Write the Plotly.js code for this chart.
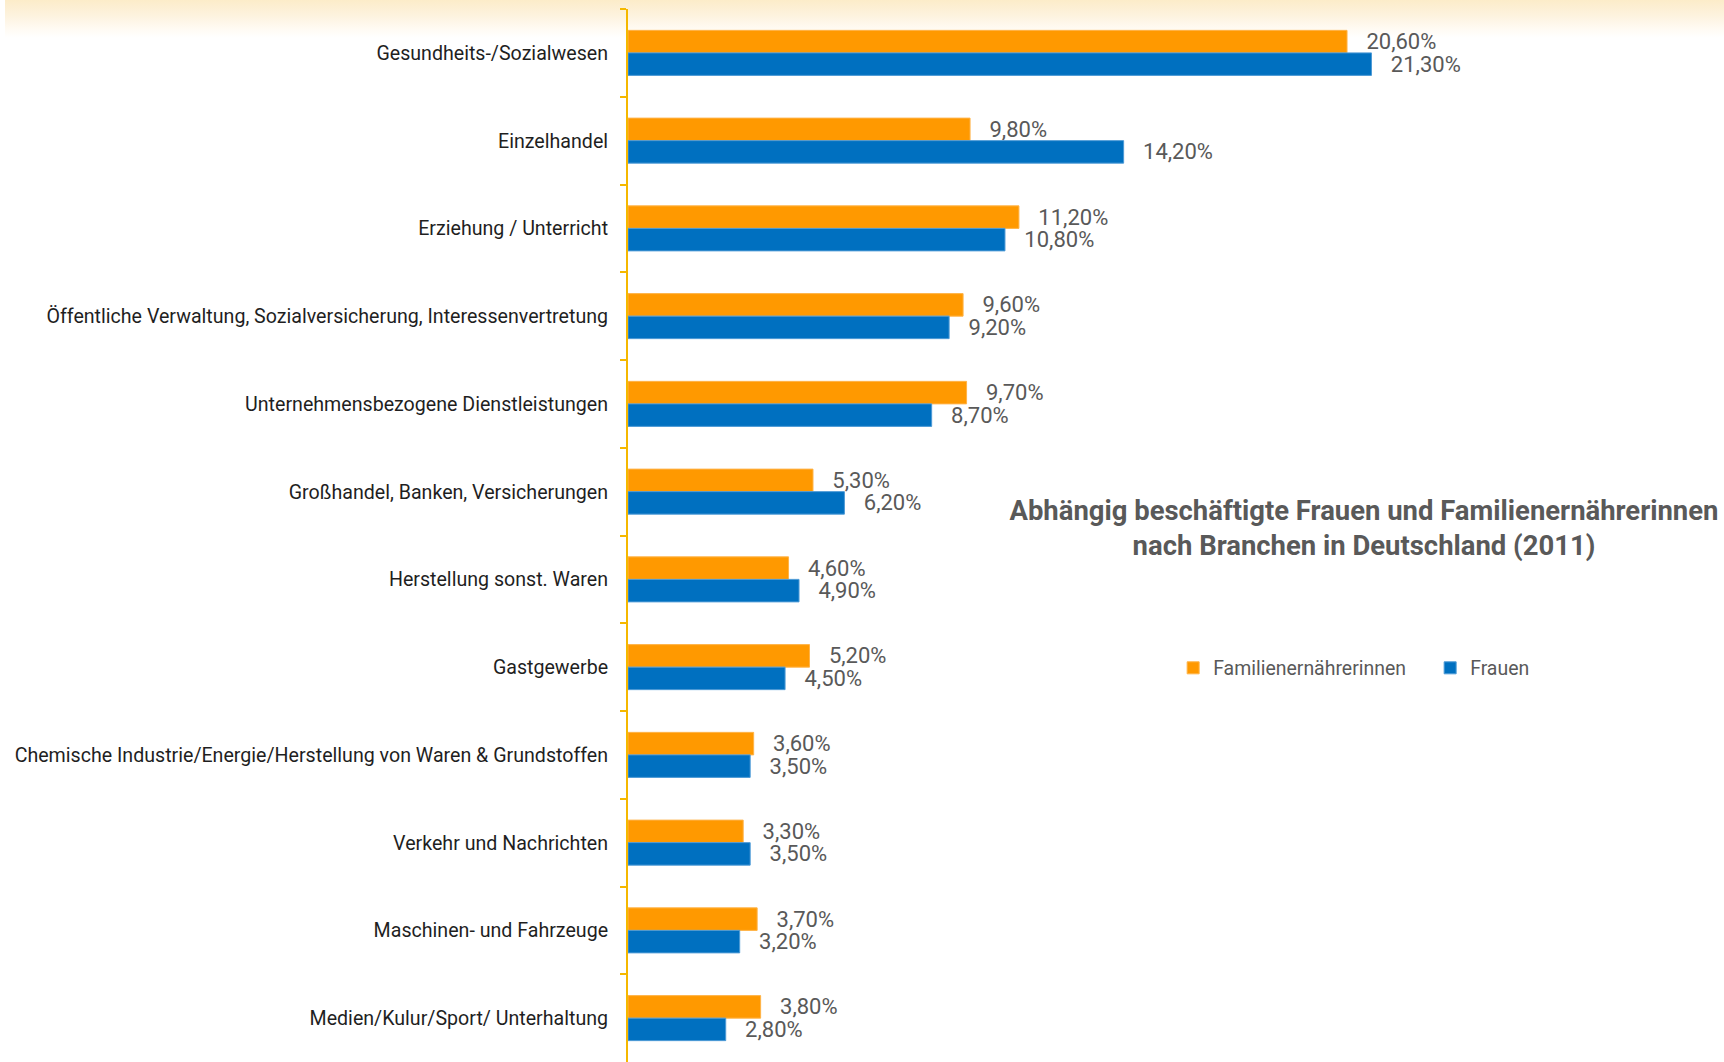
<!DOCTYPE html>
<html>
<head>
<meta charset="utf-8">
<script src="https://cdn.plot.ly/plotly-3.0.1.min.js"></script>
<style>
  html, body { margin: 0; padding: 0; background: #ffffff; }
  #band { position: absolute; left: 5px; top: 0; width: 1719px; height: 40px;
          background: linear-gradient(to bottom, #fcecc9 0px, #fdf3df 16px, #fffaf2 28px, #ffffff 38px); }
  #chart { position: absolute; left: 0; top: 0; width: 1724px; height: 1062px; }
</style>
</head>
<body>
<div id="band"></div>
<div id="chart"></div>
<script>
const categories = [
  "Gesundheits-/Sozialwesen",
  "Einzelhandel",
  "Erziehung / Unterricht",
  "Öffentliche Verwaltung, Sozialversicherung, Interessenvertretung",
  "Unternehmensbezogene Dienstleistungen",
  "Großhandel, Banken, Versicherungen",
  "Herstellung sonst. Waren",
  "Gastgewerbe",
  "Chemische Industrie/Energie/Herstellung von Waren & Grundstoffen",
  "Verkehr und Nachrichten",
  "Maschinen- und Fahrzeuge",
  "Medien/Kulur/Sport/ Unterhaltung"
];
const familienernaehrerinnen = [20.6, 9.8, 11.2, 9.6, 9.7, 5.3, 4.6, 5.2, 3.6, 3.3, 3.7, 3.8];
const frauen = [21.3, 14.2, 10.8, 9.2, 8.7, 6.2, 4.9, 4.5, 3.5, 3.5, 3.2, 2.8];
const seriesNames = ["Familienernährerinnen", "Frauen"];
const titleLines = ["Abhängig beschäftigte Frauen und Familienernährerinnen", "nach Branchen in Deutschland (2011)"];

const FONT = 'Roboto, "Noto Sans", sans-serif';

// fit font sizes to the widths the texts take in the reference
const cv = document.createElement("canvas").getContext("2d");
function fitSize(text, targetWidth, weight) {
  cv.font = (weight || "normal") + " 100px " + FONT;
  return 100 * targetWidth / cv.measureText(text).width;
}
const catSize = fitSize(categories[3], 562);
const valSize = fitSize("20,60%", 70);
const titleSize = fitSize(titleLines[0], 709, "bold");
const legSize = fitSize(seriesNames[0], 193);

const pad = "\u00a0\u00a0\u00a0";

const traces = [
  {
    type: "bar", orientation: "h", name: seriesNames[0],
    y: categories, x: familienernaehrerinnen,
    marker: { color: "#ff9900", line: { color: "#ffb347", width: 1 } },
    texttemplate: pad + "%{x:.2f}%", textposition: "outside",
    textfont: { family: FONT, size: valSize, color: "#595959" },
    constraintext: "none", cliponaxis: false, hoverinfo: "skip"
  },
  {
    type: "bar", orientation: "h", name: seriesNames[1],
    y: categories, x: frauen,
    marker: { color: "#0070c0", line: { color: "#4d9ad6", width: 1 } },
    texttemplate: pad + "%{x:.2f}%", textposition: "outside",
    textfont: { family: FONT, size: valSize, color: "#595959" },
    constraintext: "none", cliponaxis: false, hoverinfo: "skip"
  }
];

const layout = {
  width: 1724, height: 1062,
  margin: { l: 628, r: 0, t: 9, b: 0, autoexpand: false },
  paper_bgcolor: "rgba(0,0,0,0)", plot_bgcolor: "rgba(0,0,0,0)",
  separators: ",.",
  barmode: "group", bargap: 0.487, bargroupgap: 0,
  font: { family: FONT, color: "#595959" },
  title: {
    text: titleLines.join("<br>"), xref: "paper", yref: "paper", x: 0.6715, y: 0.515,
    xanchor: "center", yanchor: "middle",
    font: { family: FONT, size: titleSize, color: "#595959", weight: "bold" }
  },
  xaxis: { range: [0, 31.4], visible: false, showgrid: false, zeroline: false, fixedrange: true },
  yaxis: {
    type: "category", autorange: "reversed", showgrid: false, zeroline: false,
    showline: true, linecolor: "#f5b800", linewidth: 2,
    ticks: "outside", tickson: "boundaries", ticklen: 6, tickcolor: "#f5b800", tickwidth: 2,
    ticklabelstandoff: 14,
    tickfont: { family: FONT, size: catSize, color: "#1f1f1f" }, automargin: false, fixedrange: true
  },
  showlegend: true,
  legend: {
    orientation: "h", x: 0.4974, y: 0.374, xanchor: "left", yanchor: "middle",
    font: { family: FONT, size: legSize, color: "#595959" }, bgcolor: "rgba(0,0,0,0)",
    itemwidth: 30, traceorder: "normal", entrywidth: 212, entrywidthmode: "pixels"
  }
};

Plotly.newPlot("chart", traces, layout, { displayModeBar: false, staticPlot: true });
</script>
</body>
</html>
